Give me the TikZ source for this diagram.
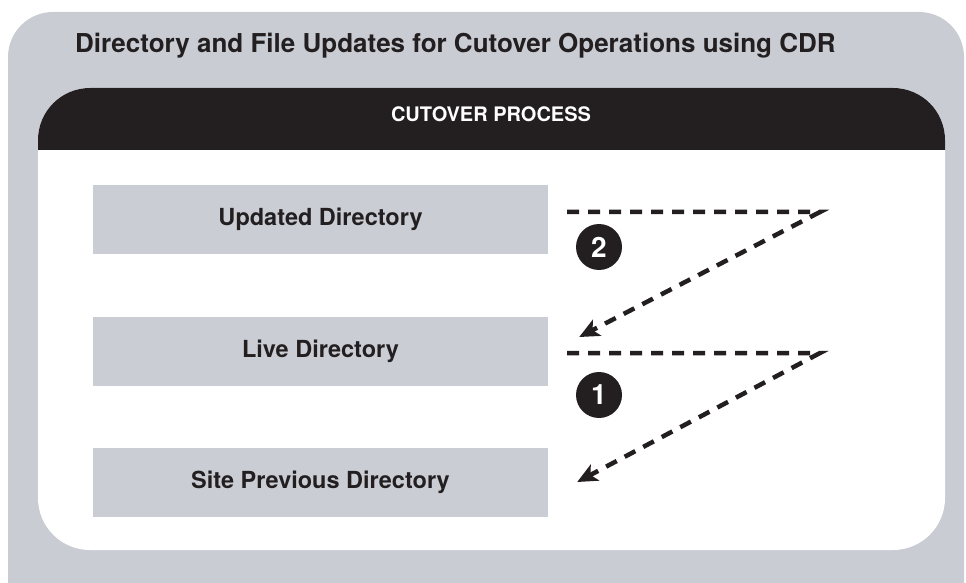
\documentclass[tikz,border=0pt]{standalone}
\usepackage{fontspec}
\setmainfont{TeX Gyre Heros}
\usetikzlibrary{arrows.meta,positioning,calc}
\definecolor{panelgray}{RGB}{201, 204, 211}
\definecolor{boxgray}{RGB}{202, 205, 212}
\definecolor{headerblack}{RGB}{35, 31, 32}
\definecolor{labelcolor}{RGB}{35, 31, 32}
\tikzset{
dirblock/.style={
  rectangle,
  fill=boxgray,
  minimum width=455pt,
  minimum height=69pt,
  align=center,
  font=\fontsize{23.5}{27}\selectfont\bfseries,
  text=labelcolor
},
stepnum/.style={
  circle,
  fill=headerblack,
  minimum size=46pt,
  inner sep=0pt,
  font=\fontsize{28}{32}\selectfont\bfseries,
  text=white
},
cutarrow/.style={
  -{Stealth[length=20pt,width=18pt,inset=5pt]},
  line width=4.5pt,
  dash pattern=on 12pt off 9pt,
  draw=headerblack
}
}

\begin{document}
\begin{tikzpicture}[x=1pt, y=1pt]

\clip (0,0) rectangle (966,582);

% ============================================================================
% Fundo
% ============================================================================
\fill[panelgray, rounded corners=45pt] (8,-60) rectangle (964,570);
\fill[white, rounded corners=52pt] (38,32) rectangle (945,494);
\begin{scope}
  \clip (38,432) rectangle (945,494);
  \fill[headerblack, rounded corners=52pt] (38,32) rectangle (945,494);
\end{scope}

% ============================================================================
% Titulos
% ============================================================================
\node[anchor=base west, font=\fontsize{26}{30}\selectfont\bfseries, text=labelcolor, inner sep=0pt]
  (title) at (75,529) {Directory and File Updates for Cutover Operations using CDR};
\node[anchor=base, font=\fontsize{20}{24}\selectfont\bfseries, text=white, inner sep=0pt]
  (header) at (491,460) {CUTOVER PROCESS};

% ============================================================================
% Diretorios
% ============================================================================
\node[dirblock] (updated) at (320.5,362.5) {Updated Directory};
\node[dirblock] (live) at (320.5,230.5) {Live Directory};
\node[dirblock] (previous) at (320.5,99.5) {Site Previous Directory};

% ============================================================================
% Setas
% ============================================================================
\coordinate (turn_two) at (820,370);
\coordinate (turn_one) at (820,229);

\draw[cutarrow] ($(updated.east)+(19,7.5)$) -- (turn_two) -- ($(live.east)+(31,14.5)$);
\draw[cutarrow] ($(live.east)+(19,-1.5)$) -- (turn_one) -- ($(previous.east)+(29,0.5)$);

\node[stepnum] (step_two) at (599,335) {2};
\node[stepnum] (step_one) at (599,187) {1};

\end{tikzpicture}
\end{document}
